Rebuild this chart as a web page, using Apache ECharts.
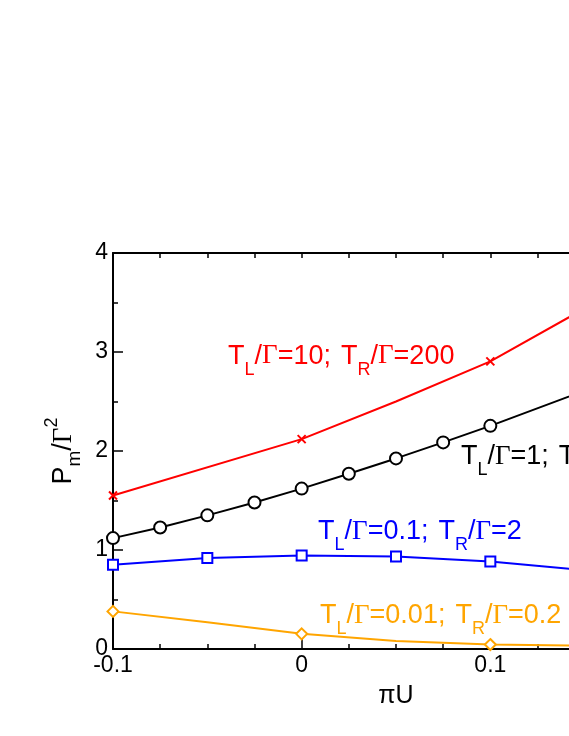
<!DOCTYPE html>
<html>
<head>
<meta charset="utf-8">
<script src="https://cdn.jsdelivr.net/npm/echarts@6/dist/echarts.min.js"></script>
<style>html,body{margin:0;padding:0;background:#fff}#gh{width:569px;height:736px}</style>
</head>
<body>
<div id="gh"></div>
<script>
var dom = document.getElementById("gh");
var myChart = echarts.init(dom);

// data (x = pi*U, y = P_m / Gamma^2)
var xRed = [-0.1, 0, 0.05, 0.1, 0.15, 0.2];
var yRed = [1.55, 2.12, 2.5, 2.905, 3.44, 3.98];
var markRed = [-0.1, 0, 0.1];

var xBlack = [-0.1, -0.075, -0.05, -0.025, 0, 0.025, 0.05, 0.075, 0.1, 0.15, 0.2];
var yBlack = [1.12, 1.227, 1.35, 1.48, 1.62, 1.77, 1.925, 2.087, 2.254, 2.61, 2.97];
var markBlack = [-0.1, -0.075, -0.05, -0.025, 0, 0.025, 0.05, 0.075, 0.1];

var xBlue = [-0.1, -0.05, 0, 0.05, 0.1, 0.15, 0.2];
var yBlue = [0.851, 0.918, 0.945, 0.935, 0.884, 0.795, 0.70];
var markBlue = [-0.1, -0.05, 0, 0.05, 0.1];

var xOrange = [-0.1, -0.05, 0, 0.05, 0.1, 0.15, 0.2];
var yOrange = [0.38, 0.27, 0.153, 0.08, 0.045, 0.032, 0.025];
var markOrange = [-0.1, 0, 0.1];

// curve labels: text anchor (left, baseline) in data units
var labelText = [
  "{n|T}{s|L}{n|/}{g|Γ}{n|=10;}{w|T}{s|R}{n|/}{g|Γ}{n|=200}",
  "{n|T}{s|L}{n|/}{g|Γ}{n|=1;}{w|T}{s|R}{n|/}{g|Γ}{n|=20}",
  "{n|T}{s|L}{n|/}{g|Γ}{n|=0.1;}{w|T}{s|R}{n|/}{g|Γ}{n|=2}",
  "{n|T}{s|L}{n|/}{g|Γ}{n|=0.01;}{w|T}{s|R}{n|/}{g|Γ}{n|=0.2}"
];
var labelX = [-0.039, 0.0844, 0.0087, 0.0097];
var labelY = [2.875, 1.859, 1.101, 0.258];
var labelColor = ["#ff0000", "#000000", "#0000ff", "#ffa500"];

function pts(xs, ys, marks) {
  return xs.map(function (x, i) {
    var it = { value: [x, ys[i]] };
    if (marks.indexOf(x) < 0) it.symbol = 'none';
    return it;
  });
}

var FONT = 'Liberation Sans';
var richT = {
  n: { fontFamily: FONT, fontSize: 27, lineHeight: 24, verticalAlign: 'top' },
  w: { fontFamily: FONT, fontSize: 27, lineHeight: 24, verticalAlign: 'top', padding: [0, 0, 0, 10] },
  g: { fontFamily: 'Liberation Serif', fontSize: 27, lineHeight: 24, verticalAlign: 'top' },
  s: { fontFamily: FONT, fontSize: 18, lineHeight: 18, verticalAlign: 'top', padding: [18, 0, 0, 0] }
};

var axisTxt = { fontFamily: FONT, fontSize: 23, color: '#000' };
var axLine = { show: true, onZero: false, lineStyle: { color: '#000', width: 2 } };
var tickStyle = { width: 1.5, color: '#000' };

option = {
  animation: false,
  backgroundColor: '#fff',
  grid: { left: 113, top: 253, width: 566, height: 396, outerBoundsMode: 'none', containLabel: false },
  xAxis: [
    {
      type: 'value', min: -0.1, max: 0.2, interval: 0.1,
      axisLine: axLine,
      axisTick: { inside: true, length: 10, lineStyle: tickStyle },
      minorTick: { show: true, splitNumber: 4, length: 5, lineStyle: tickStyle },
      splitLine: { show: false },
      axisLabel: Object.assign({ margin: 5, formatter: function (v) { return String(Math.round(v * 10) / 10); } }, axisTxt),
      name: 'πU', nameLocation: 'middle', nameGap: 35,
      nameTextStyle: { fontFamily: FONT, fontSize: 25, color: '#000' }
    },
    {
      type: 'value', position: 'top', min: -0.1, max: 0.2, interval: 0.1,
      axisLine: axLine,
      axisTick: { inside: true, length: 5, lineStyle: tickStyle },
      minorTick: { show: true, splitNumber: 4, length: 5, lineStyle: tickStyle },
      splitLine: { show: false },
      axisLabel: { show: false }
    }
  ],
  yAxis: {
    type: 'value', min: 0, max: 4, interval: 1,
    axisLine: axLine,
    axisTick: { inside: true, length: 10, lineStyle: tickStyle },
    minorTick: { show: true, splitNumber: 2, length: 5, lineStyle: tickStyle },
    splitLine: { show: false },
    axisLabel: Object.assign({ margin: 5 }, axisTxt),
    name: '{n|P}{s|m}{n|/}{g|Γ}{p|2}', nameLocation: 'middle', nameRotate: 90, nameGap: 28,
    nameTextStyle: {
      color: '#000',
      rich: {
        n: { fontFamily: FONT, fontSize: 27, lineHeight: 24, verticalAlign: 'top', padding: [7, 0, 0, 0] },
        g: { fontFamily: 'Liberation Serif', fontSize: 27, lineHeight: 24, verticalAlign: 'top', padding: [7, 0, 0, 0] },
        s: { fontFamily: FONT, fontSize: 19, lineHeight: 19, verticalAlign: 'top', padding: [22, 0, 0, 0] },
        p: { fontFamily: FONT, fontSize: 18, lineHeight: 18, verticalAlign: 'top' }
      }
    }
  },
  series: [
    {
      name: 'red', type: 'line', data: pts(xRed, yRed, markRed),
      symbol: 'path://M0,0L10,10M10,0L0,10', symbolSize: 8,
      lineStyle: { color: '#ff0000', width: 2 },
      itemStyle: { color: '#ff0000', borderColor: '#ff0000', borderWidth: 2 }
    },
    {
      name: 'black', type: 'line', data: pts(xBlack, yBlack, markBlack),
      symbol: 'emptyCircle', symbolSize: 12,
      lineStyle: { color: '#000', width: 2 },
      itemStyle: { color: '#000', borderWidth: 2 }
    },
    {
      name: 'blue', type: 'line', data: pts(xBlue, yBlue, markBlue),
      symbol: 'emptyRect', symbolSize: 10,
      lineStyle: { color: '#0000ff', width: 2 },
      itemStyle: { color: '#0000ff', borderWidth: 2 }
    },
    {
      name: 'orange', type: 'line', data: pts(xOrange, yOrange, markOrange),
      symbol: 'emptyDiamond', symbolSize: 11,
      lineStyle: { color: '#ffa500', width: 2 },
      itemStyle: { color: '#ffa500', borderWidth: 2 }
    }
  ]
};

myChart.setOption(option);

// place the curve labels at their data positions
var gfx = labelText.map(function (t, i) {
  var p = myChart.convertToPixel({ gridIndex: 0 }, [labelX[i], labelY[i]]);
  return {
    type: 'text', x: p[0], y: p[1] - 21.5,
    style: { text: t, rich: richT, fill: labelColor[i], verticalAlign: 'top', align: 'left' }
  };
});
myChart.setOption({ graphic: gfx });
</script>
</body>
</html>
